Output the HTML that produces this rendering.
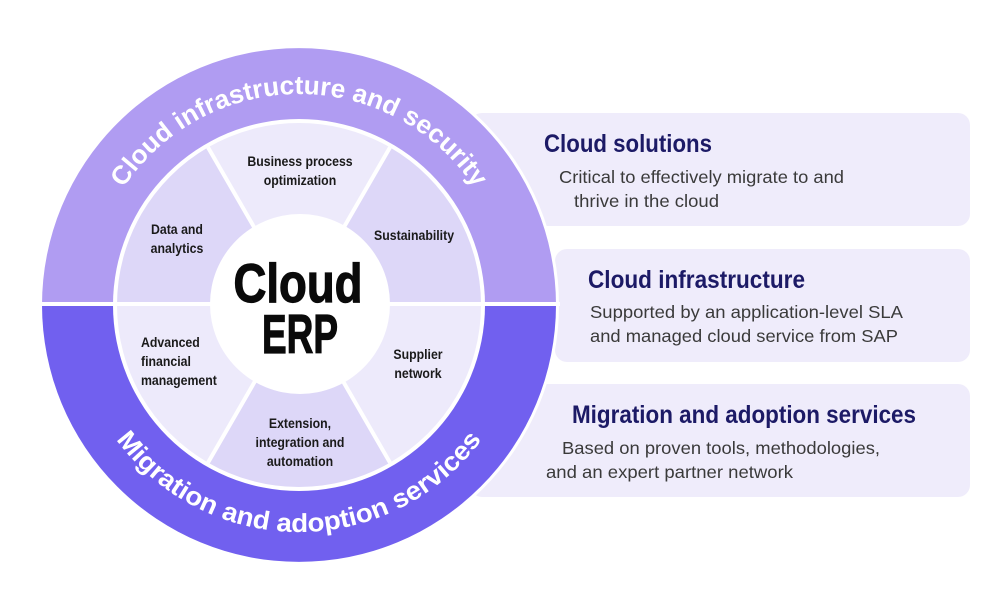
<!DOCTYPE html>
<html><head><meta charset="utf-8"><style>
html,body{margin:0;padding:0;background:#fff;}
body{width:1002px;height:600px;overflow:hidden;position:relative;font-family:"Liberation Sans",sans-serif;}
svg{position:absolute;left:0;top:0;}
.seg{font-family:"Liberation Sans",sans-serif;font-weight:bold;font-size:14px;fill:#1a1a1a;}
.ttl{font-family:"Liberation Sans",sans-serif;font-weight:bold;font-size:25px;fill:#1c1a66;}
.dsc{font-family:"Liberation Sans",sans-serif;font-size:17.5px;fill:#3a3a3a;}
.ring{font-family:"Liberation Sans",sans-serif;font-weight:bold;font-size:26px;fill:#fff;}
</style></head><body>
<svg width="1002" height="600" viewBox="0 0 1002 600">
<defs>
<path id="topArc" d="M 88 305 A 211 211 0 0 1 510 305"/>
<path id="botArc" d="M 72 305 A 227 227 0 0 0 526 305"/>
</defs>
<rect x="470" y="113" width="500" height="113" rx="12" fill="#efecfb"/>
<rect x="555" y="249" width="415" height="113" rx="12" fill="#efecfb"/>
<rect x="470" y="384" width="500" height="113" rx="12" fill="#efecfb"/>
<circle cx="299" cy="305" r="260" fill="#fff"/>
<path d="M 42 305 A 257 257 0 0 1 556 305 Z" fill="#b09cf2"/>
<path d="M 42 305 A 257 257 0 0 0 556 305 Z" fill="#7160ef"/>
<circle cx="299" cy="305" r="186" fill="#fff"/>
<g>
<path d="M299 305 L481 305 A182 182 0 0 0 390 147.4 Z" fill="#ddd7f8"/>
<path d="M299 305 L390 147.4 A182 182 0 0 0 208 147.4 Z" fill="#edeafb"/>
<path d="M299 305 L208 147.4 A182 182 0 0 0 117 305 Z" fill="#ddd7f8"/>
<path d="M299 305 L117 305 A182 182 0 0 0 208 462.6 Z" fill="#edeafb"/>
<path d="M299 305 L208 462.6 A182 182 0 0 0 390 462.6 Z" fill="#ddd7f8"/>
<path d="M299 305 L390 462.6 A182 182 0 0 0 481 305 Z" fill="#edeafb"/>
</g>
<g stroke="#fff" stroke-width="4">
<line x1="299" y1="305" x2="390" y2="147.4"/>
<line x1="299" y1="305" x2="208" y2="147.4"/>
<line x1="299" y1="305" x2="208" y2="462.6"/>
<line x1="299" y1="305" x2="390" y2="462.6"/>
<line x1="38" y1="304" x2="560" y2="304"/>
</g>
<circle cx="300" cy="304" r="90" fill="#fff"/>
<text class="ring"><textPath href="#topArc" startOffset="50%" text-anchor="middle" textLength="415" lengthAdjust="spacingAndGlyphs">Cloud infrastructure and security</textPath></text>
<text class="ring"><textPath href="#botArc" startOffset="50%" text-anchor="middle" textLength="425" lengthAdjust="spacingAndGlyphs">Migration and adoption services</textPath></text>
<g font-family="'Liberation Sans',sans-serif" font-weight="bold" font-size="55" fill="#0a0a0a" text-anchor="middle" stroke="#0a0a0a" stroke-width="1.2">
<text x="298" y="302" textLength="129" lengthAdjust="spacingAndGlyphs">Cloud</text>
<text x="300" y="353" textLength="76" lengthAdjust="spacingAndGlyphs">ERP</text>
</g>
<g transform="scale(0.88 1)">
<g class="seg" text-anchor="middle">
<text x="340.9" y="166">Business process</text>
<text x="340.9" y="185">optimization</text>
<text x="201.1" y="234">Data and</text>
<text x="201.1" y="253">analytics</text>
<text x="470.5" y="240">Sustainability</text>
<text x="475" y="359">Supplier</text>
<text x="475" y="378">network</text>
<text x="340.9" y="428">Extension,</text>
<text x="340.9" y="447">integration and</text>
<text x="340.9" y="466">automation</text>
</g>
<g class="seg">
<text x="160.2" y="347">Advanced</text>
<text x="160.2" y="366">financial</text>
<text x="160.2" y="385">management</text>
</g>
</g>
<text class="ttl" x="544" y="152" textLength="168" lengthAdjust="spacingAndGlyphs">Cloud solutions</text>
<text class="dsc" x="559" y="183" textLength="285" lengthAdjust="spacingAndGlyphs">Critical to effectively migrate to and</text>
<text class="dsc" x="574" y="207" textLength="145" lengthAdjust="spacingAndGlyphs">thrive in the cloud</text>
<text class="ttl" x="588" y="288" textLength="217" lengthAdjust="spacingAndGlyphs">Cloud infrastructure</text>
<text class="dsc" x="590" y="318" textLength="313" lengthAdjust="spacingAndGlyphs">Supported by an application-level SLA</text>
<text class="dsc" x="590" y="342" textLength="308" lengthAdjust="spacingAndGlyphs">and managed cloud service from SAP</text>
<text class="ttl" x="572" y="423" textLength="344" lengthAdjust="spacingAndGlyphs">Migration and adoption services</text>
<text class="dsc" x="562" y="454" textLength="318" lengthAdjust="spacingAndGlyphs">Based on proven tools, methodologies,</text>
<text class="dsc" x="546" y="478" textLength="247" lengthAdjust="spacingAndGlyphs">and an expert partner network</text>
</svg>
</body></html>
